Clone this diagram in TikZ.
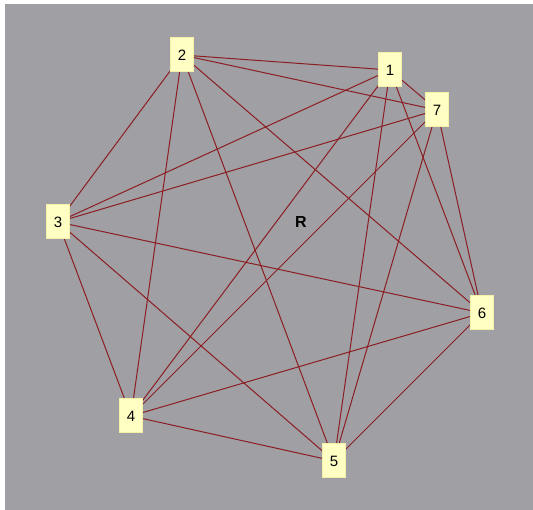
\documentclass[tikz,border=0pt]{standalone}
\usepackage{fontspec}
\setmainfont{Liberation Sans}
\usetikzlibrary{backgrounds}
\definecolor{PanelGray}{HTML}{A09FA4}
\definecolor{EdgeRed}{HTML}{8B1E22}
\definecolor{BoxYellow}{HTML}{FFFFC4}
\definecolor{BoxRim}{HTML}{F4F0A8}

\begin{document}
\begin{tikzpicture}[x=1pt,y=-1pt,line width=0.9pt,
  vbox/.style={rectangle,fill=BoxYellow,draw=BoxRim,line width=1pt,minimum width=23pt,minimum height=34pt,inner sep=0pt,font=\fontsize{15}{17}\selectfont},
  link/.style={draw=EdgeRed,line width=1pt}]
\useasboundingbox (0,0) rectangle (533,510);
\node[vbox] (v1) at (390,70) {1};
\node[vbox] (v2) at (182,55) {2};
\node[vbox] (v3) at (58,222) {3};
\node[vbox] (v4) at (131,416) {4};
\node[vbox] (v5) at (334,461) {5};
\node[vbox] (v6) at (482,313) {6};
\node[vbox] (v7) at (437,110) {7};
\node[font=\fontsize{16}{18}\selectfont\bfseries] (root) at (301,222) {R};
\begin{scope}[on background layer]
\fill[PanelGray] (5,4) rectangle (533,510);
\foreach \a/\b in {1/2,1/3,1/4,1/5,1/6,1/7,2/3,2/4,2/5,2/6,2/7,3/4,3/5,3/6,3/7,4/5,4/6,4/7,5/6,5/7,6/7}
  \draw[link] (v\a.center) -- (v\b.center);
\end{scope}
\end{tikzpicture}
\end{document}
